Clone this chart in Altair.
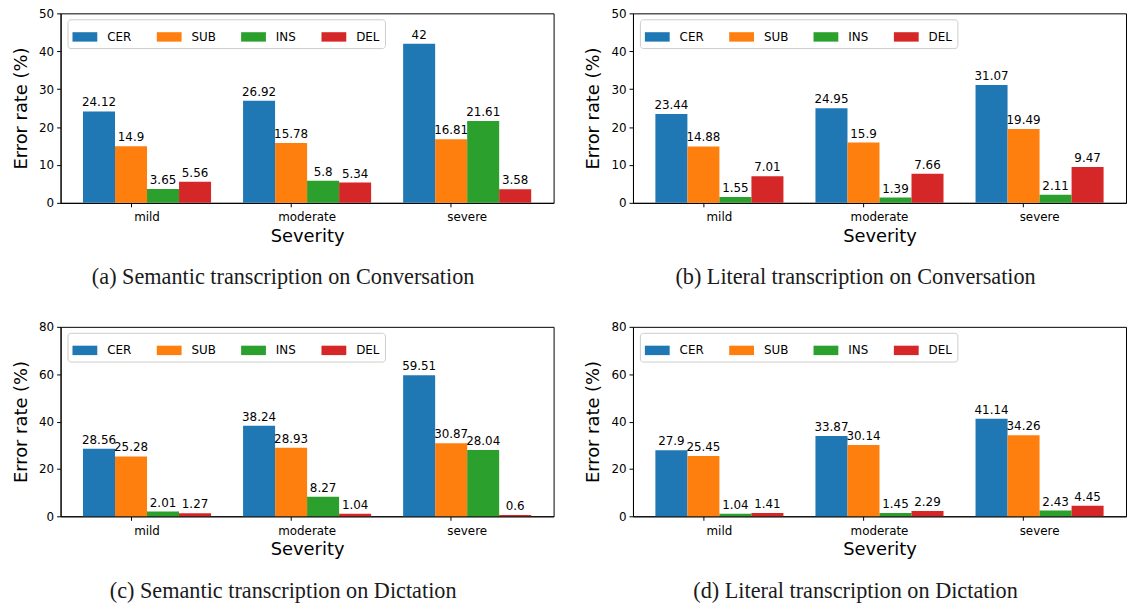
import altair as alt
import pandas as pd

severities = ["mild", "moderate", "severe"]
metrics = ["CER", "SUB", "INS", "DEL"]
colors = ["#1f77b4", "#ff7f0e", "#2ca02c", "#d62728"]

# values per severity, in metric order CER, SUB, INS, DEL
a_vals = [[24.12, 14.9, 3.65, 5.56], [26.92, 15.78, 5.8, 5.34], [42, 16.81, 21.61, 3.58]]
b_vals = [[23.44, 14.88, 1.55, 7.01], [24.95, 15.9, 1.39, 7.66], [31.07, 19.49, 2.11, 9.47]]
c_vals = [[28.56, 25.28, 2.01, 1.27], [38.24, 28.93, 8.27, 1.04], [59.51, 30.87, 28.04, 0.6]]
d_vals = [[27.9, 25.45, 1.04, 1.41], [33.87, 30.14, 1.45, 2.29], [41.14, 34.26, 2.43, 4.45]]

captions = [
    "(a) Semantic transcription on Conversation",
    "(b) Literal transcription on Conversation",
    "(c) Semantic transcription on Dictation",
    "(d) Literal transcription on Dictation",
]
y_max = [50, 50, 80, 80]
y_step = [10, 10, 20, 20]

W, H = 497, 191


def panel(vals, ymax, ystep, caption):
    rows = []
    for s, vs in zip(severities, vals):
        for m, v in zip(metrics, vs):
            rows.append({"severity": s, "metric": m, "value": v, "label": f"{v:g}"})
    df = pd.DataFrame(rows)
    base = alt.Chart(df).encode(
        x=alt.X("severity:N", sort=severities, title="Severity",
                scale=alt.Scale(paddingInner=0.2, paddingOuter=0.14),
                axis=alt.Axis(labelAngle=0, labelPadding=5, titlePadding=5,
                              bandPosition=0.375)),
        xOffset=alt.XOffset("metric:N", sort=metrics,
                            scale=alt.Scale(paddingInner=0, paddingOuter=0)),
        y=alt.Y("value:Q", title="Error rate (%)",
                scale=alt.Scale(domain=[0, ymax], nice=False),
                axis=alt.Axis(values=list(range(0, ymax + 1, ystep)), labelPadding=3, titlePadding=8)),
    )
    bars = base.mark_bar().encode(
        color=alt.Color("metric:N", sort=metrics,
                        scale=alt.Scale(domain=metrics, range=colors),
                        legend=alt.Legend(
                            orient="none", legendX=7, legendY=6,
                            direction="horizontal", columns=4, title=None,
                            symbolType="M-1,-0.38H1V0.38H-1Z", symbolSize=625,
                            symbolStrokeWidth=0, symbolOpacity=1,
                            labelFont="DejaVu Sans", labelFontSize=12, labelColor="black",
                            labelOffset=10, columnPadding=25, padding=5,
                            fillColor="white", strokeColor="#cccccc", cornerRadius=3,
                        ))
    )
    text = base.mark_text(baseline="alphabetic", dy=-5, font="DejaVu Sans",
                          fontSize=12, color="black").encode(text="label:N")
    return alt.layer(bars, text).properties(
        width=W, height=H,
        title=alt.TitleParams(caption, orient="bottom", font="Liberation Serif",
                              fontSize=22.4, fontWeight="normal", color="#1a1a1a",
                              anchor="middle", frame="bounds", offset=21),
    )


panels = [panel(v, ym, ys, c) for v, ym, ys, c in zip([a_vals, b_vals, c_vals, d_vals], y_max, y_step, captions)]

chart = alt.vconcat(
    alt.hconcat(panels[0], panels[1], spacing=30).resolve_scale(color="independent").resolve_legend(color="independent"),
    alt.hconcat(panels[2], panels[3], spacing=30).resolve_scale(color="independent").resolve_legend(color="independent"),
    spacing=31,
).resolve_scale(color="independent").resolve_legend(color="independent").properties(
    padding={"left": 4, "top": -4, "right": 0, "bottom": 0},
    background="white",
).configure_view(
    stroke="black", strokeWidth=1
).configure_axis(
    labelFont="DejaVu Sans", labelFontSize=12, labelColor="black",
    titleFont="DejaVu Sans", titleFontSize=18, titleFontWeight="normal", titleColor="black",
    tickColor="black", domainColor="black", tickSize=4, grid=False,
)

chart.save("out.html", embed_options={"renderer": "svg", "actions": False})
